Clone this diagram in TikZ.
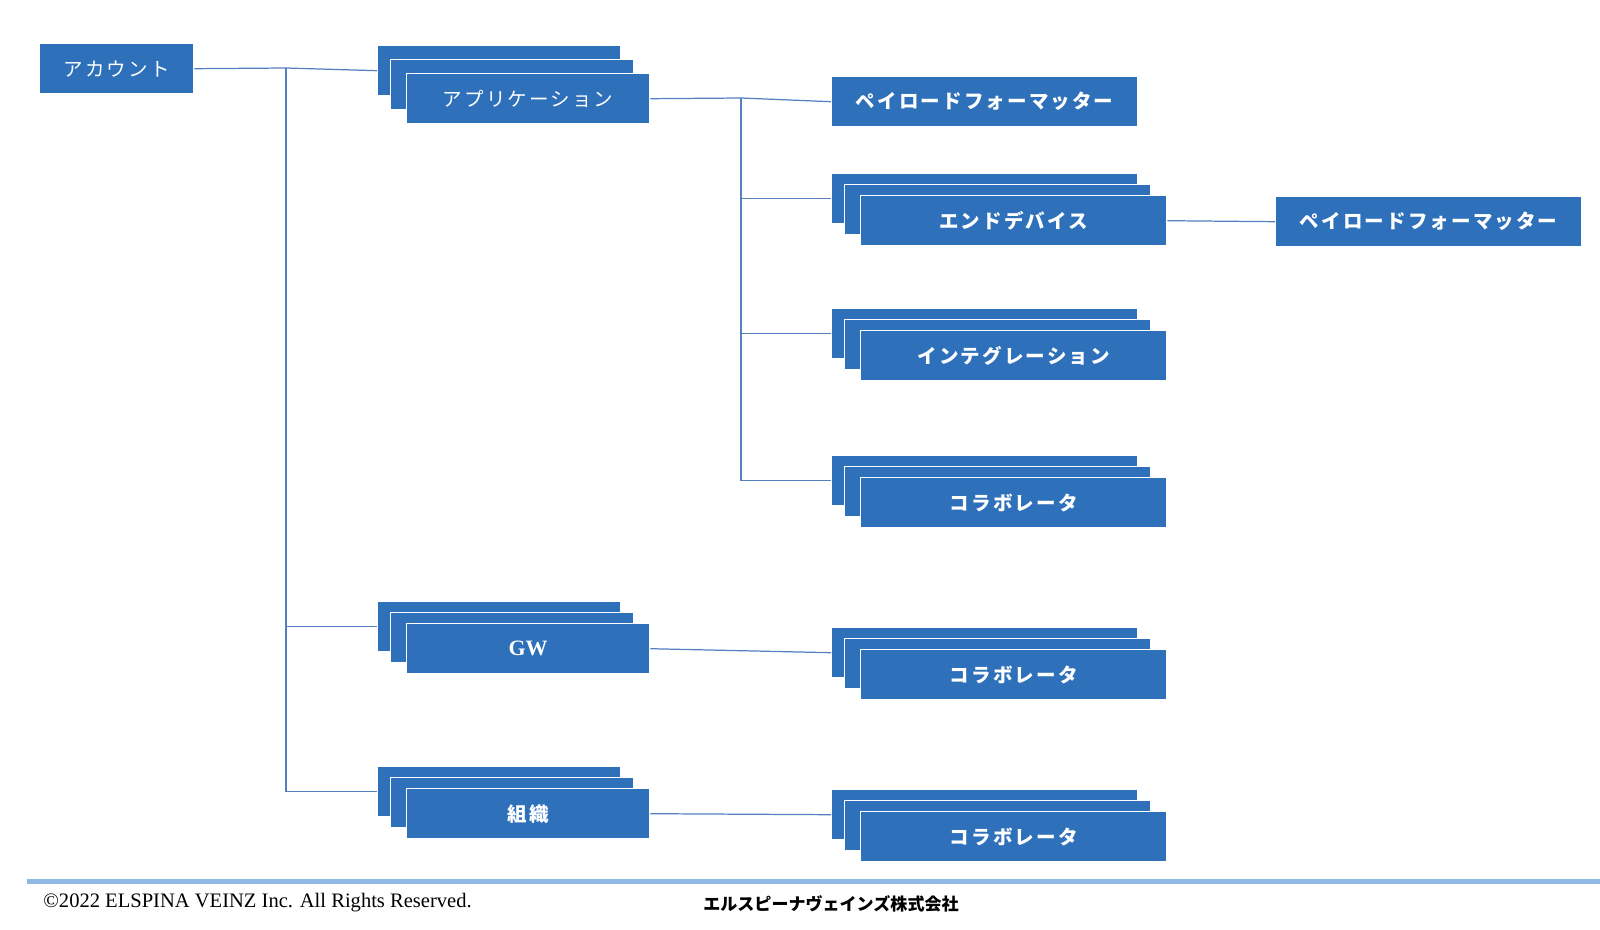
\documentclass[tikz,border=0pt]{standalone}
\usepackage{fontspec}
\usepackage{xcolor}
\usepackage{tikz}
\usetikzlibrary{positioning, calc}
\setmainfont{Liberation Serif}
\newfontfamily\jpfont[LetterSpace=11]{Noto Sans CJK JP}
\newfontfamily\jpplain{Noto Sans CJK JP}
\definecolor{boxblue}{RGB}{46, 112, 186}
\definecolor{linkblue}{RGB}{84, 128, 190}
\definecolor{rulecolor}{RGB}{143, 185, 226}

% three stacked boxes: [dy] name, x, y (back box, top left), width, text
\newcommand{\layerbox}[6][11]{
    \node[box, minimum width=#5, anchor=north west] (#2back) at (#3,#4) {};
    \node[box, minimum width=#5, anchor=north west] (#2mid) at (#3+13,#4+#1) {};
    \node[box, minimum width=#5, anchor=north west] (#2) at (#3+29,#4+2*#1) {#6};
}

\begin{document}
\begin{tikzpicture}[
    x=0.02cm, y=-0.02cm,
    box/.style={rectangle, draw=white, line width=0.8pt, fill=boxblue, minimum height=1cm, inner sep=0pt, text=white, font=\jpfont\fontsize{11.1}{13}\selectfont\bfseries},
    plain/.style={font=\jpfont\fontsize{11.1}{13}\selectfont},
    link/.style={draw=linkblue, line width=0.7pt},
    rule/.style={draw=rulecolor, line width=0.1cm}
]
    \useasboundingbox (0,0) rectangle (1600,930);

    % Root
    \node[box, plain, minimum width=3.08cm, anchor=north west] (account) at (39,43) {アカウント};

    % Second level
    \layerbox[14]{app}{377}{45}{4.86cm}{\mdseries アプリケーション}
    \layerbox{gw}{377}{601}{4.86cm}{\rmfamily\fontsize{12.5}{14}\selectfont GW}
    \layerbox{org}{377}{766}{4.86cm}{組織}

    % Third level
    \node[box, minimum width=6.12cm, anchor=north west] (payload) at (831,76) {ペイロードフォーマッター};
    \layerbox{dev}{831}{173}{6.12cm}{エンドデバイス}
    \layerbox{int}{831}{308}{6.12cm}{インテグレーション}
    \layerbox{collabA}{831}{455}{6.12cm}{コラボレータ}
    \layerbox{collabB}{831}{627}{6.12cm}{コラボレータ}
    \layerbox{collabC}{831}{789}{6.12cm}{コラボレータ}
    \node[box, minimum width=6.12cm, anchor=north west] (devpayload) at (1275,196) {ペイロードフォーマッター};

    % Connections
    \coordinate (acctjoint) at (286,68);
    \coordinate (appjoint) at (741,98);
    \draw[link] (account.east) -- (acctjoint) -- (appback.west);
    \draw[link] (acctjoint) |- (gwback.west);
    \draw[link] (acctjoint) |- (orgback.west);
    \draw[link] (app.east) -- (appjoint) -- (payload.west);
    \draw[link] (appjoint) |- (devback.west);
    \draw[link] (appjoint) |- (intback.west);
    \draw[link] (appjoint) |- (collabAback.west);
    \draw[link] (dev.east) -- (devpayload.west);
    \draw[link] (gw.east) -- (collabBback.west);
    \draw[link] (org.east) -- (collabCback.west);

    % Footer
    \draw[rule] (27,881) -- (1600,881);
    \node[anchor=west, inner sep=0pt, font=\fontsize{11.7}{14}\selectfont] (copyright) at (43,903) {©2022 ELSPINA VEINZ Inc. All Rights Reserved.};
    \node[anchor=west, inner sep=0pt, font=\jpplain\fontsize{9.7}{12}\selectfont\bfseries] (company) at (703,904) {エルスピーナヴェインズ株式会社};

\end{tikzpicture}
\end{document}
